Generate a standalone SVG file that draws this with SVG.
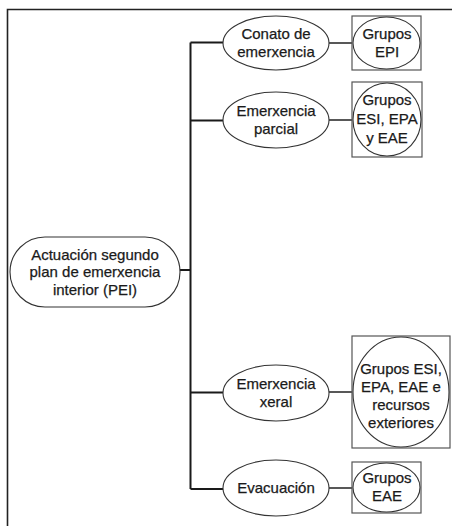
<svg xmlns="http://www.w3.org/2000/svg" width="452" height="526" viewBox="0 0 452 526">
<style>
text{font-family:"Liberation Sans",Arial,sans-serif;font-size:15px;fill:#1a1a1a;text-anchor:middle;stroke:#1a1a1a;stroke-width:0.25}
.el{fill:#fff;stroke:#333;stroke-width:1.1}
.bx{fill:#fff;stroke:#555;stroke-width:1.2}
.cn{fill:none;stroke:#1a1a1a;stroke-width:2}
.cs{fill:none;stroke:#222;stroke-width:1.4}
</style>
<rect width="452" height="526" fill="#fff"/>
<path d="M7.5,530 V9.5 H452" fill="none" stroke="#222" stroke-width="1.6"/>
<g id="connectors">
<path class="cn" d="M180,270 H190.5 M190.5,42.5 V489 M190.5,42.5 H223 M190.5,120.5 H223 M190.5,392.5 H223 M190.5,489 H223"/>
<path class="cs" d="M329,43 H352 M329,120 H352 M329,392 H352 M329,488 H352"/>
</g>
<g id="root">
<rect class="el" x="10" y="237" width="170" height="70" rx="35" ry="35"/>
<text x="95" y="260">Actuación segundo</text>
<text x="95" y="277">plan de emerxencia</text>
<text x="95" y="295">interior (PEI)</text>
</g>
<g id="conato">
<ellipse class="el" cx="276" cy="43" rx="53" ry="27"/>
<text x="276" y="39">Conato de</text>
<text x="276" y="57">emerxencia</text>
</g>
<g id="parcial">
<ellipse class="el" cx="276" cy="120" rx="53" ry="28"/>
<text x="276" y="116">Emerxencia</text>
<text x="276" y="134">parcial</text>
</g>
<g id="xeral">
<ellipse class="el" cx="276" cy="393" rx="53" ry="28"/>
<text x="276" y="389">Emerxencia</text>
<text x="276" y="407">xeral</text>
</g>
<g id="evacuacion">
<ellipse class="el" cx="276" cy="488" rx="53" ry="28"/>
<text x="276" y="493">Evacuación</text>
</g>
<g id="grupos-epi">
<rect class="bx" x="352" y="16" width="69" height="54"/>
<ellipse class="el" cx="386.5" cy="43" rx="33.5" ry="26"/>
<text x="387" y="39">Grupos</text>
<text x="387" y="57">EPI</text>
</g>
<g id="grupos-esi-epa-eae">
<rect class="bx" x="352" y="82" width="70" height="75"/>
<ellipse class="el" cx="387" cy="119.5" rx="34" ry="36.5"/>
<text x="387" y="105">Grupos</text>
<text x="387" y="124">ESI, EPA</text>
<text x="387" y="143">y EAE</text>
</g>
<g id="grupos-exteriores">
<rect class="bx" x="352" y="336" width="98" height="112"/>
<ellipse class="el" cx="401" cy="392" rx="48" ry="55"/>
<text x="401" y="374">Grupos ESI,</text>
<text x="401" y="392">EPA, EAE e</text>
<text x="401" y="410">recursos</text>
<text x="401" y="428">exteriores</text>
</g>
<g id="grupos-eae">
<rect class="bx" x="352" y="462" width="69" height="51"/>
<ellipse class="el" cx="386.5" cy="487.5" rx="33.5" ry="24.5"/>
<text x="387" y="483">Grupos</text>
<text x="387" y="501">EAE</text>
</g>
</svg>
